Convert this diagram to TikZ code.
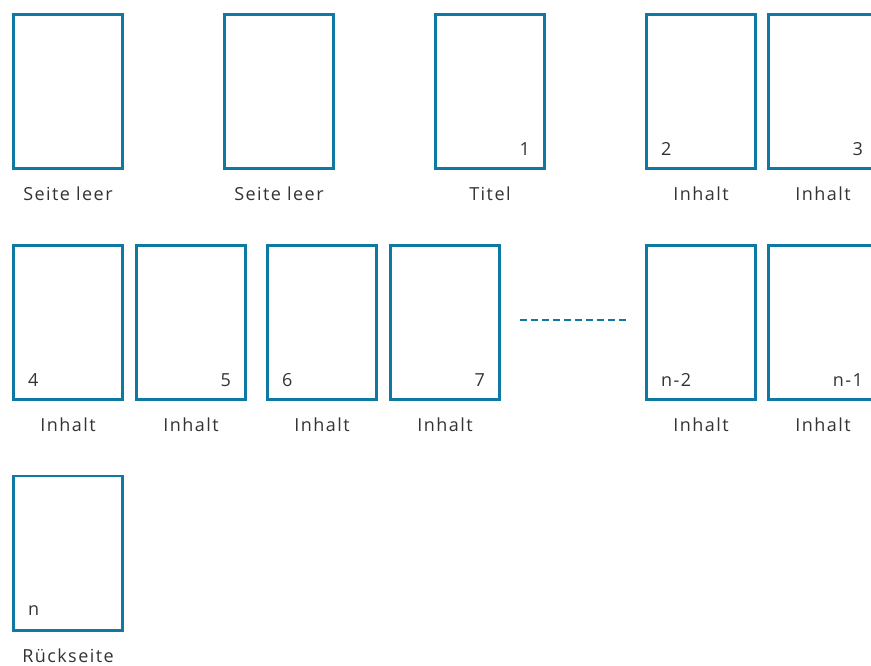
\documentclass[tikz,border=0pt]{standalone}
\usepackage{fontspec}
\setmainfont{Open Sans}[LetterSpace=8]
\definecolor{pageblue}{HTML}{0E79A3}
\definecolor{textgray}{HTML}{333333}
\usetikzlibrary{positioning,calc}

\tikzset{
  page/.style={draw=pageblue, line width=2.7pt, minimum width=109.3pt, minimum height=154.3pt, inner sep=0pt},
  lbl/.style={font=\fontsize{18}{20}\selectfont, text=textgray, inner sep=0pt},
  pnum/.style={font=\fontsize{18}{20}\selectfont, text=textgray, inner sep=0pt},
}

\begin{document}
\begin{tikzpicture}[x=1pt, y=-1pt]
\clip (0,0) rectangle (871,665);

% erste Reihe
\node[page] (s1) at (68,91.5) {};
\node[page] (s2) at (279,91.5) {};
\node[page] (s3) at (490,91.5) {};
\node[page] (s4) at (701,91.5) {};
\node[page] (s5) at (823,91.5) {};

\node[lbl] (l1) at ($(s1.south)+(0,24)$) {Seite leer};
\node[lbl] (l2) at ($(s2.south)+(0,24)$) {Seite leer};
\node[lbl] (l3) at ($(s3.south)+(0,24)$) {Titel};
\node[lbl] (l4) at ($(s4.south)+(0,24)$) {Inhalt};
\node[lbl] (l5) at ($(s5.south)+(0,24)$) {Inhalt};

\node[pnum, anchor=east] (n3) at ($(s3.south east)+(-16,-21)$) {1};
\node[pnum, anchor=west] (n4) at ($(s4.south west)+(16,-21)$) {2};
\node[pnum, anchor=east] (n5) at ($(s5.south east)+(-16,-21)$) {3};

% zweite Reihe
\node[page] (s6) at (68,322.5) {};
\node[page] (s7) at (191,322.5) {};
\node[page] (s8) at (322,322.5) {};
\node[page] (s9) at (445,322.5) {};
\node[page] (s10) at (701,322.5) {};
\node[page] (s11) at (823,322.5) {};

\foreach \s in {6,...,11}
  \node[lbl] (l\s) at ($(s\s.south)+(0,24)$) {Inhalt};

\node[pnum, anchor=west] (n6) at ($(s6.south west)+(16,-21)$) {4};
\node[pnum, anchor=east] (n7) at ($(s7.south east)+(-16,-21)$) {5};
\node[pnum, anchor=west] (n8) at ($(s8.south west)+(16,-21)$) {6};
\node[pnum, anchor=east] (n9) at ($(s9.south east)+(-16,-21)$) {7};
\node[pnum, anchor=west] (n10) at ($(s10.south west)+(16,-21)$) {n-2};
\node[pnum, anchor=east] (n11) at ($(s11.south east)+(-16,-21)$) {n-1};

\coordinate (dotsA) at (520,320);
\coordinate (dotsB) at (627,320);
\draw[pageblue, line width=2.7pt, dash pattern=on 7pt off 4pt] (dotsA) -- (dotsB);

% dritte Reihe
\node[page] (s12) at (68,553) {};
\node[lbl] (l12) at ($(s12.south)+(0,24)$) {Rückseite};
\node[pnum, anchor=west] (n12) at ($(s12.south west)+(16,-21)$) {n};

\end{tikzpicture}
\end{document}
